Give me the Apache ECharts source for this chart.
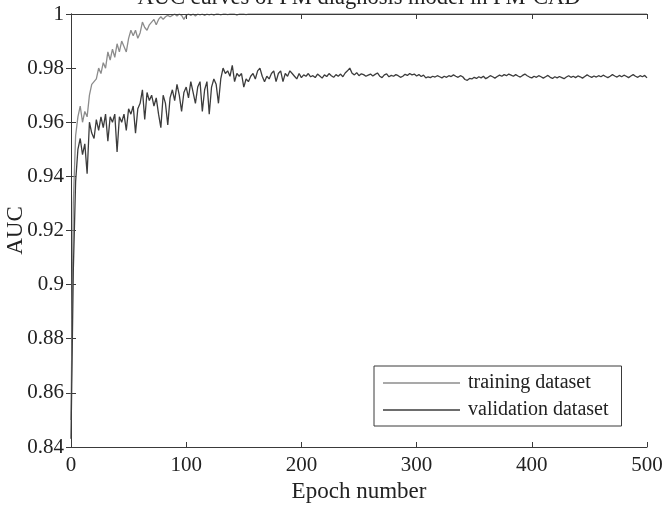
<!DOCTYPE html>
<html>
<head>
<meta charset="utf-8">
<title>AUC curves</title>
<script src="https://cdn.jsdelivr.net/npm/echarts@6/dist/echarts.min.js"></script>
<style>
  html, body { margin: 0; padding: 0; background: #fff; }
  #chart { width: 667px; height: 506px; }
</style>
</head>
<body>
<div id="chart"></div>
<script>
// epochs are sampled every 2 steps: index i -> epoch i * EPOCH_STEP
const EPOCH_STEP = 2;
const seriesNames = ['training dataset', 'validation dataset'];
const xTicks = [0, 100, 200, 300, 400, 500];
const yTicks = [0.84, 0.86, 0.88, 0.9, 0.92, 0.94, 0.96, 0.98, 1];

// one row = 20 epochs
const trainingAuc = [
  0.850, 0.930, 0.955, 0.962, 0.966, 0.960, 0.964, 0.962, 0.970, 0.974,
  0.975, 0.976, 0.980, 0.978, 0.982, 0.980, 0.986, 0.983, 0.987, 0.984,
  0.989, 0.986, 0.990, 0.988, 0.986, 0.991, 0.994, 0.992, 0.994, 0.991,
  0.993, 0.997, 0.995, 0.994, 0.996, 0.997, 0.998, 0.996, 0.998, 0.999,
  0.998, 0.999, 0.9995, 0.999, 0.9995, 1.000, 0.9993, 1.000, 0.9995, 0.998,
  0.9995, 1.000, 0.9995, 1.000, 0.9993, 1.000, 0.9997, 1.000, 0.9995, 1.000,
  0.9997, 1.000, 0.9996, 1.000, 1.000, 0.9997, 1.000, 1.000, 0.9998, 1.000,
  1.000, 1.000, 0.9996, 1.000, 1.000, 1.000, 0.9998, 1.000, 1.000, 1.000,
  1, 1, 1, 1, 1, 1, 1, 1, 1, 1,
  1, 1, 1, 1, 1, 1, 1, 1, 1, 1,
  1, 1, 1, 1, 1, 1, 1, 1, 1, 1,
  1, 1, 1, 1, 1, 1, 1, 1, 1, 1,
  1, 1, 1, 1, 1, 1, 1, 1, 1, 1,
  1, 1, 1, 1, 1, 1, 1, 1, 1, 1,
  1, 1, 1, 1, 1, 1, 1, 1, 1, 1,
  1, 1, 1, 1, 1, 1, 1, 1, 1, 1,
  1, 1, 1, 1, 1, 1, 1, 1, 1, 1,
  1, 1, 1, 1, 1, 1, 1, 1, 1, 1,
  1, 1, 1, 1, 1, 1, 1, 1, 1, 1,
  1, 1, 1, 1, 1, 1, 1, 1, 1, 1,
  1, 1, 1, 1, 1, 1, 1, 1, 1, 1,
  1, 1, 1, 1, 1, 1, 1, 1, 1, 1,
  1, 1, 1, 1, 1, 1, 1, 1, 1, 1,
  1, 1, 1, 1, 1, 1, 1, 1, 1, 1,
  1, 1, 1, 1, 1, 1, 1, 1, 1, 1,
  1
];

const validationAuc = [
  0.843, 0.905, 0.938, 0.950, 0.954, 0.948, 0.952, 0.941, 0.960, 0.956,
  0.954, 0.961, 0.957, 0.962, 0.958, 0.963, 0.953, 0.962, 0.960, 0.963,
  0.949, 0.962, 0.960, 0.963, 0.957, 0.965, 0.963, 0.966, 0.956, 0.965,
  0.967, 0.972, 0.961, 0.971, 0.968, 0.970, 0.966, 0.969, 0.963, 0.958,
  0.970, 0.967, 0.959, 0.969, 0.972, 0.968, 0.974, 0.970, 0.964, 0.971,
  0.973, 0.969, 0.975, 0.971, 0.967, 0.973, 0.975, 0.964, 0.972, 0.975,
  0.963, 0.973, 0.976, 0.974, 0.967, 0.976, 0.980, 0.978, 0.979, 0.977,
  0.981, 0.975, 0.978, 0.977, 0.978, 0.973, 0.976, 0.975, 0.977, 0.978,
  0.976, 0.979, 0.980, 0.977, 0.975, 0.977, 0.976, 0.978, 0.979, 0.975,
  0.978, 0.979, 0.975, 0.978, 0.977, 0.979, 0.978, 0.977, 0.976, 0.978,
  0.9765, 0.9775, 0.9770, 0.9780, 0.9768, 0.9772, 0.9765, 0.9778, 0.9771, 0.9763,
  0.9775, 0.9769, 0.9780, 0.9772, 0.9766, 0.9776, 0.9770, 0.9778, 0.9768, 0.9782,
  0.9790, 0.9800, 0.9781, 0.9775, 0.9783, 0.9772, 0.9779, 0.9776, 0.9770, 0.9774,
  0.9778, 0.9771, 0.9777, 0.9782, 0.9770, 0.9765, 0.9775, 0.9779, 0.9768, 0.9773,
  0.9770, 0.9776, 0.9772, 0.9766, 0.9770, 0.9777, 0.9773, 0.9780, 0.9775, 0.9778,
  0.9771, 0.9776, 0.9769, 0.9774, 0.9764, 0.9768, 0.9765, 0.9770, 0.9767, 0.9772,
  0.9768, 0.9764, 0.9770, 0.9766, 0.9772, 0.9769, 0.9775, 0.9770, 0.9766, 0.9772,
  0.9768, 0.9758, 0.9755, 0.9762, 0.9760, 0.9766, 0.9762, 0.9768, 0.9764, 0.9770,
  0.9761, 0.9766, 0.9772, 0.9768, 0.9763, 0.9769, 0.9774, 0.9770, 0.9776, 0.9772,
  0.9778, 0.9774, 0.9770, 0.9776, 0.9771, 0.9767, 0.9773, 0.9778, 0.9772, 0.9767,
  0.9764, 0.9770, 0.9766, 0.9772, 0.9768, 0.9763, 0.9768, 0.9773, 0.9766, 0.9762,
  0.9768, 0.9764, 0.9769, 0.9765, 0.9761, 0.9767, 0.9772, 0.9766, 0.9770, 0.9765,
  0.9771, 0.9768, 0.9763, 0.9769, 0.9775, 0.9770, 0.9766, 0.9771, 0.9767, 0.9772,
  0.9768, 0.9774, 0.9769, 0.9765, 0.9770, 0.9776, 0.9771, 0.9767, 0.9773, 0.9768,
  0.9774, 0.9770, 0.9765, 0.9771, 0.9776, 0.9770, 0.9766, 0.9772, 0.9768, 0.9773,
  0.9764
];

const toPairs = (vals) => vals.map((v, i) => [i * EPOCH_STEP, v]);

const FONT = '"Liberation Serif", "Times New Roman", serif';
const INK = '#222';
const AXIS = '#3a3a3a';

const chart = echarts.init(document.getElementById('chart'));

const xBase = {
  type: 'value',
  min: xTicks[0],
  max: xTicks[xTicks.length - 1],
  interval: xTicks[1] - xTicks[0],
  splitLine: { show: false },
  axisLine: { show: true, lineStyle: { color: AXIS, width: 1 } },
  axisTick: { show: true, inside: true, length: 5, lineStyle: { color: AXIS } }
};
const yBase = {
  type: 'value',
  min: yTicks[0],
  max: yTicks[yTicks.length - 1],
  interval: 0.02,
  splitLine: { show: false },
  axisLine: { show: true, lineStyle: { color: AXIS, width: 1 } },
  axisTick: { show: true, inside: true, length: 5, lineStyle: { color: AXIS } }
};

chart.setOption({
  animation: false,
  backgroundColor: '#fff',
  title: {
    text: 'AUC curves of PM diagnosis model in PM-CAD',
    left: 359,
    top: -13,
    padding: 0,
    textAlign: 'center',
    textStyle: { fontFamily: FONT, fontSize: 22.5, fontWeight: 'normal', color: INK }
  },
  grid: {
    left: 71, right: 20, top: 14, bottom: 59,
    containLabel: false,
    outerBoundsMode: 'none'
  },
  legend: {
    orient: 'vertical',
    left: 374,
    top: 366,
    padding: [7, 13, 6, 9],
    itemGap: 7,
    itemWidth: 77,
    itemHeight: 1.4,
    icon: 'rect',
    borderColor: AXIS,
    borderWidth: 1,
    backgroundColor: '#fff',
    data: seriesNames,
    textStyle: { fontFamily: FONT, fontSize: 20, color: INK, padding: [0, 0, 0, 3] }
  },
  xAxis: [
    Object.assign({}, xBase, {
      position: 'bottom',
      name: 'Epoch number',
      nameLocation: 'middle',
      nameGap: 33,
      nameMoveOverlap: false,
      nameTextStyle: { fontFamily: FONT, fontSize: 23, color: INK },
      axisLabel: { margin: 8, fontFamily: FONT, fontSize: 21, color: INK }
    }),
    Object.assign({}, xBase, { position: 'top', axisLabel: { show: false }, z: 5 })
  ],
  yAxis: [
    Object.assign({}, yBase, {
      position: 'left',
      name: 'AUC',
      nameLocation: 'middle',
      nameGap: 44,
      nameMoveOverlap: false,
      nameTextStyle: { fontFamily: FONT, fontSize: 23, color: INK },
      axisLabel: { margin: 7, fontFamily: FONT, fontSize: 21, color: INK }
    }),
    Object.assign({}, yBase, { position: 'right', axisLabel: { show: false } })
  ],
  series: [
    {
      name: seriesNames[0],
      type: 'line',
      data: toPairs(trainingAuc),
      symbol: 'none',
      lineStyle: { color: '#8c8c8c', width: 1.3 },
      itemStyle: { color: '#8c8c8c' }
    },
    {
      name: seriesNames[1],
      type: 'line',
      data: toPairs(validationAuc),
      symbol: 'none',
      lineStyle: { color: '#3c3c3c', width: 1.3 },
      itemStyle: { color: '#3c3c3c' }
    }
  ]
});
</script>
</body>
</html>
